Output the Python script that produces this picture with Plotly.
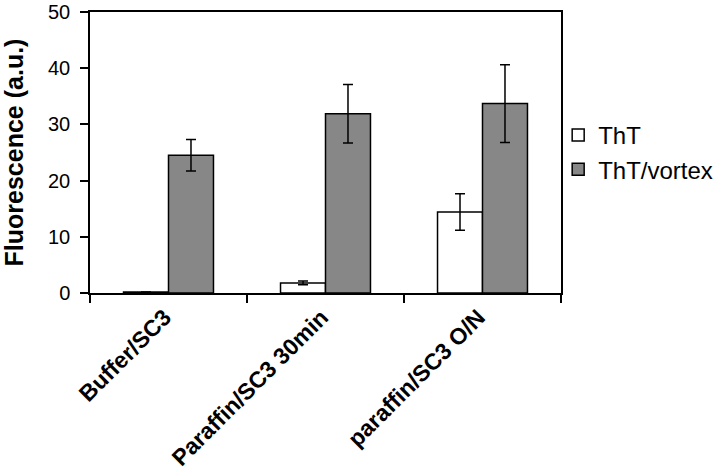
import plotly.graph_objects as go

categories = ["Buffer/SC3", "Paraffin/SC3 30min", "paraffin/SC3 O/N"]
tht_values = [0.2, 1.8, 14.4]
tht_errors = [0.0, 0.35, 3.25]
vortex_values = [24.5, 31.9, 33.7]
vortex_errors = [2.8, 5.2, 6.9]
y_ticks = [0, 10, 20, 30, 40, 50]

fig = go.Figure()
fig.add_trace(go.Bar(
    name="ThT", x=categories, y=tht_values,
    marker=dict(color="white", line=dict(color="black", width=1.5)),
    error_y=dict(type="data", array=tht_errors, color="black", thickness=1.5, width=5),
))
fig.add_trace(go.Bar(
    name="ThT/vortex", x=categories, y=vortex_values,
    marker=dict(color="#878787", line=dict(color="black", width=1.5)),
    error_y=dict(type="data", array=vortex_errors, color="black", thickness=1.5, width=5),
))

fig.update_layout(
    width=720, height=470,
    margin=dict(l=90, r=159, t=12, b=177, autoexpand=False),
    paper_bgcolor="white", plot_bgcolor="white",
    barmode="group", bargap=0.427, bargroupgap=0,
    font=dict(family="Liberation Sans, Arial, sans-serif", color="black"),
    showlegend=True,
    legend=dict(x=0.994, xanchor="left", y=0.5, yanchor="middle",
                font=dict(size=24), bgcolor="rgba(0,0,0,0)",
                traceorder="normal"),
)
fig.update_yaxes(
    range=[0, 50], tickvals=y_ticks, ticks="outside", ticklen=8, tickwidth=1.5,
    tickcolor="black", showline=True, linecolor="black", linewidth=1.5,
    mirror=True, showgrid=False, zeroline=False, automargin=False,
    tickfont=dict(size=20), ticklabelstandoff=6, ticklabeloverflow="allow",
    title=dict(text="<b>Fluorescence (a.u.)</b>", font=dict(size=25), standoff=27),
)
fig.update_xaxes(
    tickson="boundaries", ticks="outside", ticklen=8, tickwidth=1.5, tickcolor="black",
    showline=True, linecolor="black", linewidth=1.5, mirror=True, showgrid=False,
    automargin=False, ticklabeloverflow="allow", ticklabelshift=-4,
    tickangle=-45, tickfont=dict(size=23),
    tickvals=categories, ticktext=["<b>" + c + "</b>" for c in categories],
)

fig.write_html("out.html", config={"displayModeBar": False},
               post_script="document.body.style.margin='0';")
